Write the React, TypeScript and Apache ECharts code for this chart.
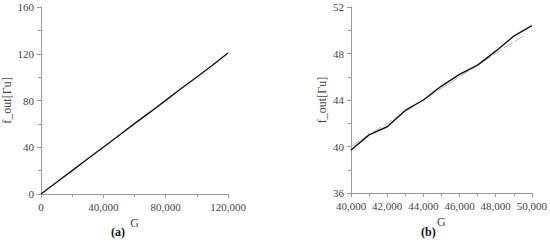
import React, { useEffect, useRef } from "react";
import * as echarts from "echarts";

// (a) full range
const gA = [0, 10000, 20000, 30000, 40000, 50000, 60000, 70000, 80000, 90000, 100000, 110000, 120000];
const fA = [0, 10.1, 20.0, 30.2, 40.0, 50.1, 60.2, 70.0, 80.1, 90.3, 100.1, 110.2, 120.6];
// (b) zoomed range
const gB = [40000, 41000, 42000, 43000, 44000, 45000, 46000, 47000, 48000, 49000, 50000];
const fB = [39.7, 41.0, 41.7, 43.1, 44.0, 45.2, 46.2, 47.0, 48.2, 49.5, 50.4];
// fitted reference line in (b)
const gFit = [40000, 49700];
const fFit = [40.0, 49.7];

const FONT = "Liberation Serif";
const AXIS = "#9a9a9a";
const TXT = "#444";

function axisCommon() {
  return {
    axisLine: { show: true, lineStyle: { color: AXIS, width: 1 } },
    axisTick: { show: true, inside: false, length: 4, lineStyle: { color: AXIS } },
    minorTick: { show: true, splitNumber: 2, length: 3, lineStyle: { color: AXIS } },
    splitLine: { show: false },
    axisLabel: { color: TXT, fontFamily: FONT, fontSize: 11, margin: 7 },
    nameTextStyle: { color: TXT, fontFamily: FONT, fontSize: 12 },
  };
}

export default function App() {
  const ref = useRef<HTMLDivElement>(null);
  useEffect(() => {
    if (!ref.current) return;
    const chart = echarts.init(ref.current, null, { renderer: "svg" });
    const fmt = (v: number) => v.toLocaleString("en-US");
    chart.setOption({
      animation: false,
      backgroundColor: "#fff",
      grid: [
        { left: 41, top: 7, width: 187, height: 187 },
        { left: 351, top: 7, width: 185, height: 186 },
      ],
      xAxis: [
        {
          ...axisCommon(), gridIndex: 0, type: "value", min: 0, max: 120000, interval: 40000,
          name: "G", nameLocation: "middle", nameGap: 17,
          axisLabel: { ...axisCommon().axisLabel, formatter: fmt },
        },
        {
          ...axisCommon(), gridIndex: 1, type: "value", min: 40000, max: 50000, interval: 2000,
          name: "G", nameLocation: "middle", nameGap: 17,
          axisLabel: { ...axisCommon().axisLabel, formatter: fmt },
        },
      ],
      yAxis: [
        {
          ...axisCommon(), gridIndex: 0, type: "value", min: 0, max: 160, interval: 40,
          name: "f_out[Γu]", nameLocation: "middle", nameGap: 28,
        },
        {
          ...axisCommon(), gridIndex: 1, type: "value", min: 36, max: 52, interval: 4,
          name: "f_out[Γu]", nameLocation: "middle", nameGap: 23,
        },
      ],
      series: [
        {
          type: "line", xAxisIndex: 0, yAxisIndex: 0, showSymbol: false,
          data: gA.map((g, i) => [g, fA[i]]),
          lineStyle: { color: "#111", width: 1.4 },
        },
        {
          type: "line", xAxisIndex: 1, yAxisIndex: 1, showSymbol: false,
          data: gFit.map((g, i) => [g, fFit[i]]),
          lineStyle: { color: "#b5b5b5", width: 1, type: [10, 3] },
          z: 1,
        },
        {
          type: "line", xAxisIndex: 1, yAxisIndex: 1, showSymbol: false,
          data: gB.map((g, i) => [g, fB[i]]),
          lineStyle: { color: "#111", width: 1.4 },
          z: 2,
        },
      ],
      graphic: [
        {
          type: "text", left: 111, top: 226,
          style: { text: "(a)", fontFamily: FONT, fontSize: 12, fontWeight: "bold", fill: "#111" },
        },
        {
          type: "text", left: 421, top: 226,
          style: { text: "(b)", fontFamily: FONT, fontSize: 12, fontWeight: "bold", fill: "#111" },
        },
      ],
    });
    return () => chart.dispose();
  }, []);
  return (
    <div
      ref={ref}
      style={{ position: "fixed", left: 0, top: 0, width: 550, height: 243 }}
    />
  );
}
